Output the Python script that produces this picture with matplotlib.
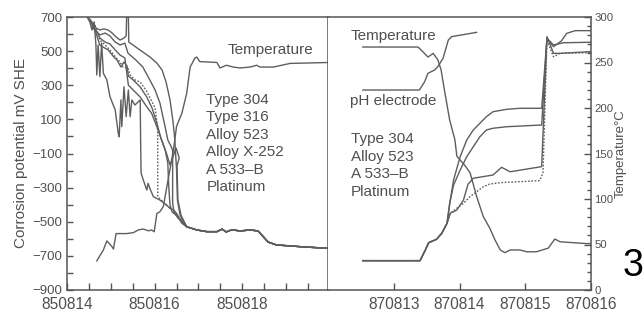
import matplotlib
matplotlib.use('Agg')
import matplotlib.pyplot as plt
from matplotlib.ticker import MultipleLocator, FixedLocator

plt.rcParams['font.family'] = ['Liberation Sans', 'DejaVu Sans']

# ---------------- data: left panel (August 1985, day of month) ----------------
L_temp_day = [14.68, 14.83, 14.91, 15.02, 15.06, 15.12, 15.36, 15.51, 15.63, 15.74, 15.86, 15.93,
              15.99, 16.05, 16.12, 16.20, 16.28, 16.43, 16.50, 16.62, 16.73, 16.81, 16.92, 16.96,
              17.03, 17.42, 17.49, 17.64, 17.79, 17.95, 18.18, 18.33, 18.40, 18.71, 19.09, 19.96]
L_temp_c = [32, 44, 54, 48, 45, 62, 62, 63, 66, 67, 65, 66,
            64, 84, 86, 92, 114, 154, 180, 194, 216, 245, 255, 256,
            251, 250, 244, 247, 245, 244, 245, 247, 245, 245, 249, 250]

tail_day = [16.73, 16.96, 17.19, 17.42, 17.54, 17.63, 17.76, 17.95, 18.18, 18.36, 18.48, 18.59,
            18.78, 19.32, 19.96]
tail_mv = [-529, -548, -558, -558, -543, -560, -547, -554, -548, -554, -588, -619,
           -636, -646, -656]

type304_day = [14.48, 14.57, 14.66, 14.75, 14.84, 14.94, 15.03, 15.12, 15.21, 15.30, 15.35, 15.36,
               15.40, 15.41, 15.57, 15.73, 15.89, 16.05, 16.17, 16.26, 16.35, 16.42, 16.46, 16.50,
               16.52, 16.58, 16.67]
type304_mv = [700, 671, 636, 624, 630, 624, 606, 583, 565, 577, 589, 700,
              700, 553, 524, 495, 466, 430, 389, 319, 214, 85, -21, -197,
              -373, -461, -502]

type316_day = [14.52, 14.64, 14.75, 14.87, 14.98, 15.10, 15.21, 15.32, 15.39, 15.57, 15.73, 15.89,
               16.01, 16.12, 16.24, 16.30, 16.37, 16.41, 16.41, 16.41, 16.44, 16.53, 16.67]
type316_mv = [682, 624, 595, 606, 589, 553, 536, 547, 489, 448, 407, 331,
              272, 196, 55, -21, -56, -80, -226, -390, -443, -478, -513]

alloy523_day = [14.57, 14.66, 14.75, 14.82, 14.94, 15.05, 15.14, 15.23, 15.30, 15.37, 15.40, 15.51,
                15.67, 15.82, 15.94, 16.05, 16.14, 16.24, 16.30, 16.32, 16.35, 16.40, 16.49, 16.62]
alloy523_mv = [653, 606, 536, 524, 507, 471, 448, 407, 436, 413, 354, 331,
               290, 231, 167, 79, -9, -80, -156, -285, -402, -443, -461, -496]

x252_day = [14.64, 14.75, 14.87, 14.98, 15.10, 15.21, 15.28, 15.39, 15.44, 15.55, 15.67, 15.80,
            15.92, 16.01, 16.07, 16.07, 16.07, 16.24, 16.40, 16.58]
x252_mv = [653, 565, 536, 507, 466, 436, 407, 401, 360, 331, 319, 272,
           214, 167, 38, -167, -353, -396, -431, -478]

a533_day = [14.46, 14.52, 14.57, 14.62, 14.66, 14.68, 14.71, 14.75, 14.79, 14.83, 14.91, 14.98,
            15.10, 15.17, 15.19, 15.23, 15.25, 15.30, 15.35, 15.40, 15.44, 15.48, 15.55, 15.67,
            15.68, 15.69, 15.74, 15.82, 15.85, 15.89, 15.97, 16.12, 16.27, 16.35, 16.43, 16.50, 16.62]
a533_mv = [700, 671, 624, 671, 536, 360, 536, 350, 546, 370, 331, 233,
           155, 18, -2, 214, 57, 291, 116, 272, 116, 214, 184, 214,
           -21, -214, -255, -314, -275, -304, -353, -373, -402, -421, -431, -451, -509]

plat_day = [14.66, 14.75, 14.87, 14.98, 15.10, 15.21, 15.32, 15.40, 15.51, 15.67, 15.82, 15.93,
            16.05, 16.16, 16.27, 16.35, 16.49, 16.56, 16.51, 16.53, 16.60]
plat_mv = [624, 577, 553, 542, 507, 477, 460, 301, 272, 231, 174, 136,
           57, -21, -99, -167, -68, -126, -173, -373, -461]

# ---------------- data: right panel (August 1987, day of month) ----------------
R_temp_day = [12.53, 13.37, 13.44, 13.52, 13.60, 13.67, 13.72, 13.77, 13.85, 13.93, 13.96, 14.08,
              14.16, 14.26, 14.36, 14.46, 14.54, 14.62, 14.69, 14.77, 14.92, 15.02, 15.17, 15.35,
              15.45, 15.53, 15.93, 16.00]
R_temp_c = [267, 267, 262, 256, 260, 253, 242, 220, 187, 165, 147, 137,
            129, 103, 81, 68, 55, 44, 41, 44, 44, 42, 42, 46,
            56, 53, 51, 51]

ph_day = [12.53, 13.39, 13.47, 13.52, 13.62, 13.67, 13.75, 13.83, 13.88, 14.26]
ph_mv = [272, 272, 321, 370, 389, 409, 458, 565, 585, 610]

R_start_day = [12.53, 13.40, 13.48, 13.53, 13.65, 13.73, 13.81]
R_start_mv = [-728, -728, -666, -623, -603, -568, -509]

R304_day = [13.86, 13.91, 14.01, 14.11, 14.21, 14.31, 14.41, 14.51, 14.72, 14.92, 15.25, 15.33,
            15.43, 15.55, 15.63, 15.76, 16.00]
R304_mv = [-373, -255, -119, -21, 38, 77, 116, 145, 159, 165, 165, 575,
           526, 560, 604, 620, 620]

R523_day = [13.85, 13.91, 14.01, 14.11, 14.21, 14.31, 14.41, 14.51, 14.72, 15.25, 15.33, 15.43,
            15.58, 16.00]
R523_mv = [-392, -285, -197, -119, -60, -2, 38, 48, 57, 67, 575, 536,
           549, 552]

R533_day = [13.86, 13.96, 14.06, 14.13, 14.21, 14.51, 14.64, 14.77, 15.25, 15.33, 15.43, 15.53, 16.00]
R533_mv = [-450, -431, -373, -280, -245, -226, -181, -207, -177, 585, 487, 487, 497]

Rplat_day = [13.86, 13.96, 14.06, 14.16, 14.26, 14.36, 14.46, 14.62, 14.92, 15.22, 15.27, 15.33,
             15.43, 15.53, 16.00]
Rplat_mv = [-450, -421, -392, -353, -324, -295, -279, -271, -265, -259, -214, 565,
            467, 487, 491]

left_labels = ['Type 304', 'Type 316', 'Alloy 523', 'Alloy X-252', 'A 533\u2013B', 'Platinum']
right_labels = ['Type 304', 'Alloy 523', 'A 533\u2013B', 'Platinum']
left_xticks = [14, 16, 18]
left_xticklabels = ['850814', '850816', '850818']
right_xticks = [13, 14, 15, 16]
right_xticklabels = ['870813', '870814', '870815', '870816']

# ---------------- styling ----------------
LC = '#5e5e5e'
TC = '#505050'
SC = '#555555'
LW = 1.0
W, H = 644, 316
fig = plt.figure(figsize=(W / 100, H / 100), dpi=100)


def box(x0, y0, x1, y1):
    return [x0 / W, 1 - y1 / H, (x1 - x0) / W, (y1 - y0) / H]


axL = fig.add_axes(box(67, 17, 328, 290))
axR = fig.add_axes(box(328, 17, 591, 290))
for ax in (axL, axR):
    ax.set_ylim(-900, 700)
    for s in ax.spines.values():
        s.set_color(SC)
        s.set_linewidth(1.1)
axL.set_xlim(14, 19.955)
axR.set_xlim(12, 16)

# left panel axes
axL.yaxis.set_major_locator(FixedLocator(list(range(-900, 701, 200))))
axL.yaxis.set_minor_locator(MultipleLocator(100))
axL.xaxis.set_major_locator(FixedLocator(left_xticks))
axL.set_xticklabels(left_xticklabels)
axL.xaxis.set_minor_locator(MultipleLocator(0.5))
axL.tick_params(axis='both', which='both', direction='in', color=SC, labelcolor=TC)
axL.tick_params(axis='y', which='major', length=4.3, width=1, labelsize=9.5, pad=3.5)
axL.tick_params(axis='y', which='minor', length=4.3, width=1)
axL.tick_params(axis='x', which='both', length=4.8, width=1, labelsize=11.2, pad=5)
axL.set_ylabel('Corrosion potential mV SHE', fontsize=11, color=TC, labelpad=3)

# right panel axes
axR.set_yticks([])
axR.xaxis.set_major_locator(FixedLocator(right_xticks))
axR.set_xticklabels(right_xticklabels)
axR.tick_params(axis='x', which='both', direction='in', length=4.8, width=1, color=SC,
                labelcolor=TC, labelsize=11.2, pad=5)
axR.spines['left'].set_visible(False)

axT = axR.twinx()
axT.set_ylim(0, 300)
axT.yaxis.set_major_locator(MultipleLocator(50))
axT.yaxis.set_minor_locator(MultipleLocator(10))
axT.tick_params(axis='y', which='both', direction='in', color=SC, labelcolor=TC)
axT.tick_params(axis='y', which='major', length=5, width=1, labelsize=8.2, pad=2.5)
axT.tick_params(axis='y', which='minor', length=3, width=1)
for s in axT.spines.values():
    s.set_visible(False)
axT.set_ylabel('Temperature\u00b0C', fontsize=9.5, color=TC, labelpad=1)

axLT = axL.twinx()
axLT.set_ylim(0, 300)
axLT.set_yticks([])
for s in axLT.spines.values():
    s.set_visible(False)

# ---------------- curves: left ----------------
kw = dict(color=LC, lw=LW)
axLT.plot(L_temp_day, L_temp_c, **kw)
axL.plot(type304_day + tail_day, type304_mv + tail_mv, **kw)
axL.plot(type316_day + tail_day, type316_mv + tail_mv, **kw)
axL.plot(alloy523_day + tail_day, alloy523_mv + tail_mv, **kw)
axL.plot(x252_day + tail_day, x252_mv + tail_mv, color=LC, lw=LW, ls=(0, (1.2, 1.2)))
axL.plot(a533_day + tail_day, a533_mv + tail_mv, **kw)
axL.plot(plat_day + tail_day, plat_mv + tail_mv, **kw)

# ---------------- curves: right ----------------
axT.plot(R_temp_day, R_temp_c, **kw)
axR.plot(ph_day, ph_mv, **kw)
axR.plot(R_start_day + R304_day, R_start_mv + R304_mv, **kw)
axR.plot(R_start_day + R523_day, R_start_mv + R523_mv, **kw)
axR.plot(R_start_day + R533_day, R_start_mv + R533_mv, **kw)
axR.plot(R_start_day + Rplat_day, R_start_mv + Rplat_mv, color=LC, lw=LW, ls=(0, (1.2, 1.2)))

# ---------------- annotations ----------------
tk = dict(fontsize=11, color=TC, va='center', ha='left')
fig.text(313 / W, 1 - 50 / H, 'Temperature', fontsize=11, color=TC, va='center', ha='right')
for i, lab in enumerate(left_labels):
    fig.text(206.5 / W, 1 - (100 + i * 17.4) / H, lab, **tk)

fig.text(351 / W, 1 - 36 / H, 'Temperature', **tk)
fig.text(349.5 / W, 1 - 101 / H, 'pH electrode', **tk)
for i, lab in enumerate(right_labels):
    fig.text(351 / W, 1 - (139 + i * 17.6) / H, lab, **tk)

fig.text(623 / W, 1 - 276 / H, '3', fontsize=27, color='black', ha='left', va='baseline')

fig.savefig('out.png', dpi=100)
